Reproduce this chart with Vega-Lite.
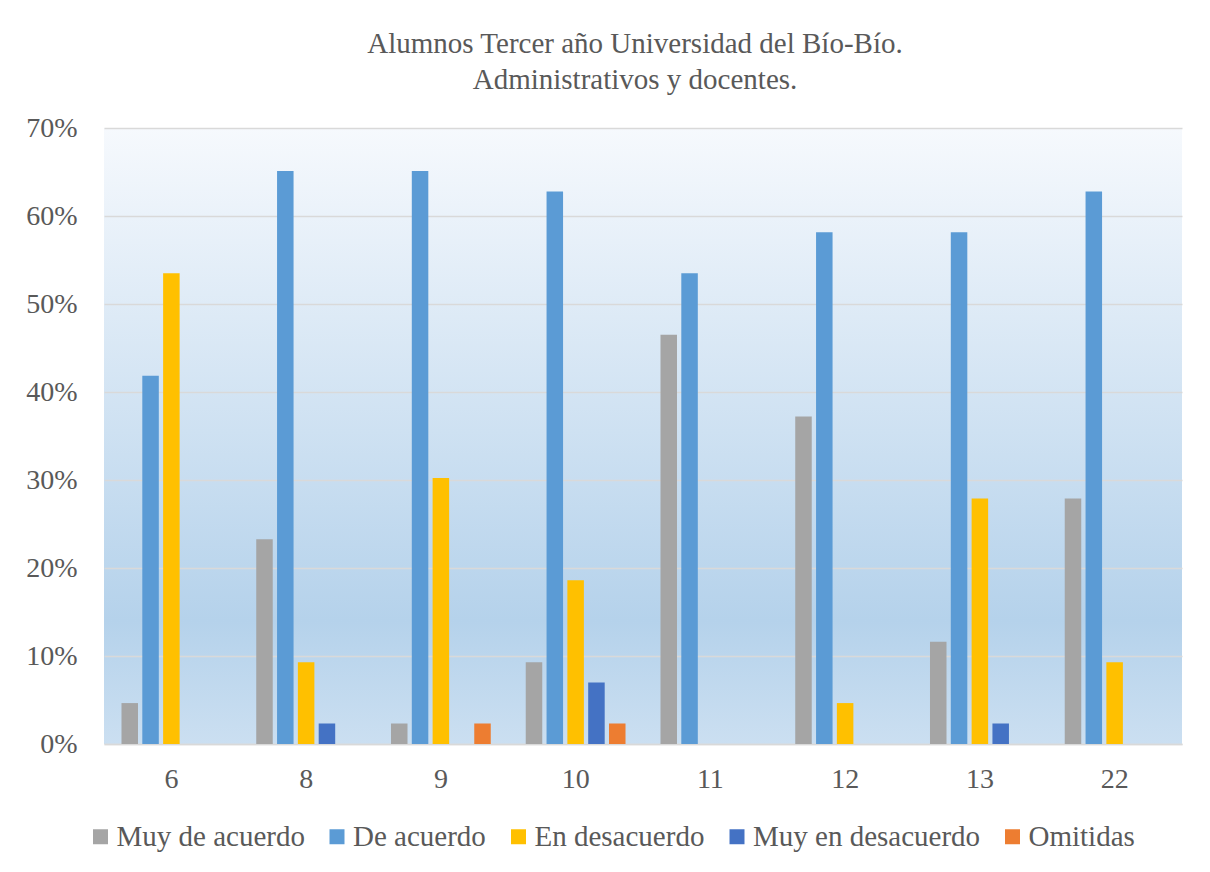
{
  "$schema": "https://vega.github.io/schema/vega-lite/v6.json",
  "width": 1078,
  "height": 616,
  "autosize": {"type": "none"},
  "padding": {"left": 104, "top": 128, "right": 28, "bottom": 128},
  "background": "white",
  "title": {
    "text": ["Alumnos Tercer año Universidad del Bío-Bío.", "Administrativos y docentes."],
    "font": "Liberation Serif, Times New Roman, serif",
    "fontSize": 29,
    "fontWeight": "normal",
    "color": "#595959",
    "anchor": "middle",
    "lineHeight": 36,
    "offset": 19,
    "dx": -8
  },
  "view": {
    "stroke": null,
    "fill": {
      "gradient": "linear",
      "x1": 0, "y1": 0, "x2": 0, "y2": 1,
      "stops": [
        {"offset": 0, "color": "#F6F9FD"},
        {"offset": 0.8, "color": "#B5D2EB"},
        {"offset": 1, "color": "#CBDFF1"}
      ]
    }
  },
  "data": {
    "values": [
      {"cat": "6", "serie": "Muy de acuerdo", "value": 0.0465},
      {"cat": "6", "serie": "De acuerdo", "value": 0.4186},
      {"cat": "6", "serie": "En desacuerdo", "value": 0.5349},
      {"cat": "6", "serie": "Muy en desacuerdo", "value": 0},
      {"cat": "6", "serie": "Omitidas", "value": 0},
      {"cat": "8", "serie": "Muy de acuerdo", "value": 0.2326},
      {"cat": "8", "serie": "De acuerdo", "value": 0.6512},
      {"cat": "8", "serie": "En desacuerdo", "value": 0.093},
      {"cat": "8", "serie": "Muy en desacuerdo", "value": 0.0233},
      {"cat": "8", "serie": "Omitidas", "value": 0},
      {"cat": "9", "serie": "Muy de acuerdo", "value": 0.0233},
      {"cat": "9", "serie": "De acuerdo", "value": 0.6512},
      {"cat": "9", "serie": "En desacuerdo", "value": 0.3023},
      {"cat": "9", "serie": "Muy en desacuerdo", "value": 0},
      {"cat": "9", "serie": "Omitidas", "value": 0.0233},
      {"cat": "10", "serie": "Muy de acuerdo", "value": 0.093},
      {"cat": "10", "serie": "De acuerdo", "value": 0.6279},
      {"cat": "10", "serie": "En desacuerdo", "value": 0.186},
      {"cat": "10", "serie": "Muy en desacuerdo", "value": 0.0698},
      {"cat": "10", "serie": "Omitidas", "value": 0.0233},
      {"cat": "11", "serie": "Muy de acuerdo", "value": 0.4651},
      {"cat": "11", "serie": "De acuerdo", "value": 0.5349},
      {"cat": "11", "serie": "En desacuerdo", "value": 0},
      {"cat": "11", "serie": "Muy en desacuerdo", "value": 0},
      {"cat": "11", "serie": "Omitidas", "value": 0},
      {"cat": "12", "serie": "Muy de acuerdo", "value": 0.3721},
      {"cat": "12", "serie": "De acuerdo", "value": 0.5814},
      {"cat": "12", "serie": "En desacuerdo", "value": 0.0465},
      {"cat": "12", "serie": "Muy en desacuerdo", "value": 0},
      {"cat": "12", "serie": "Omitidas", "value": 0},
      {"cat": "13", "serie": "Muy de acuerdo", "value": 0.1163},
      {"cat": "13", "serie": "De acuerdo", "value": 0.5814},
      {"cat": "13", "serie": "En desacuerdo", "value": 0.2791},
      {"cat": "13", "serie": "Muy en desacuerdo", "value": 0.0233},
      {"cat": "13", "serie": "Omitidas", "value": 0},
      {"cat": "22", "serie": "Muy de acuerdo", "value": 0.2791},
      {"cat": "22", "serie": "De acuerdo", "value": 0.6279},
      {"cat": "22", "serie": "En desacuerdo", "value": 0.093},
      {"cat": "22", "serie": "Muy en desacuerdo", "value": 0},
      {"cat": "22", "serie": "Omitidas", "value": 0}
    ]
  },
  "mark": {"type": "bar"},
  "encoding": {
    "x": {
      "field": "cat",
      "type": "ordinal",
      "sort": ["6", "8", "9", "10", "11", "12", "13", "22"],
      "scale": {"paddingInner": 0, "paddingOuter": 0},
      "axis": {
        "title": null,
        "labelAngle": 0,
        "labelFont": "Liberation Serif, Times New Roman, serif",
        "labelFontSize": 28,
        "labelColor": "#595959",
        "labelPadding": 21,
        "ticks": false,
        "domainColor": "#D9D9D9",
        "domainWidth": 1.5,
        "grid": false
      }
    },
    "xOffset": {
      "field": "serie",
      "type": "nominal",
      "sort": ["Muy de acuerdo", "De acuerdo", "En desacuerdo", "Muy en desacuerdo", "Omitidas"],
      "scale": {"paddingInner": 0.207, "paddingOuter": 0.84}
    },
    "y": {
      "field": "value",
      "type": "quantitative",
      "scale": {"domain": [0, 0.7], "nice": false},
      "axis": {
        "title": null,
        "values": [0, 0.1, 0.2, 0.3, 0.4, 0.5, 0.6, 0.7],
        "format": ".0%",
        "labelFont": "Liberation Serif, Times New Roman, serif",
        "labelFontSize": 28,
        "labelColor": "#595959",
        "labelPadding": 27,
        "ticks": false,
        "domain": false,
        "grid": true,
        "gridColor": "#D9D9D9",
        "gridWidth": 1.5
      }
    },
    "color": {
      "field": "serie",
      "type": "nominal",
      "sort": ["Muy de acuerdo", "De acuerdo", "En desacuerdo", "Muy en desacuerdo", "Omitidas"],
      "scale": {
        "domain": ["Muy de acuerdo", "De acuerdo", "En desacuerdo", "Muy en desacuerdo", "Omitidas"],
        "range": ["#A5A5A5", "#5B9BD5", "#FFC000", "#4472C4", "#ED7D31"]
      },
      "legend": {
        "title": null,
        "orient": "none",
        "legendX": -18,
        "legendY": 694,
        "direction": "horizontal",
        "columns": 5,
        "columnPadding": 17.5,
        "symbolType": "square",
        "symbolSize": 225,
        "symbolStrokeWidth": 0,
        "labelFont": "Liberation Serif, Times New Roman, serif",
        "labelFontSize": 29,
        "labelColor": "#595959",
        "labelOffset": 1.5,
        "labelLimit": 400
      }
    }
  }
}
